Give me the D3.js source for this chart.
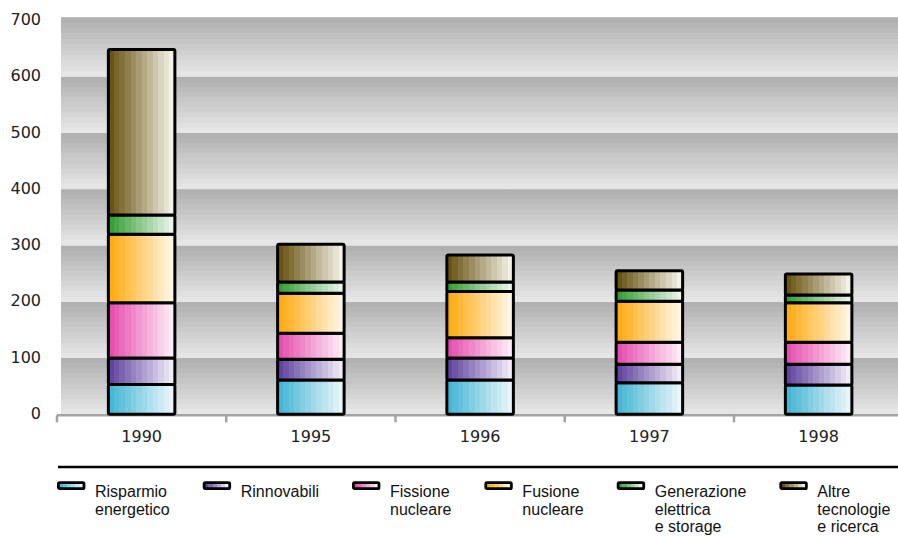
<!DOCTYPE html>
<html>
<head>
<meta charset="utf-8">
<script src="https://cdn.jsdelivr.net/npm/d3@7/dist/d3.min.js"></script>
<style>
  html, body { margin: 0; padding: 0; background: #ffffff; }
  svg { display: block; }
</style>
</head>
<body>
<svg id="chart" width="898" height="536"></svg>
<script>
// Spesa per ricerca energetica, per settore (valori impilati)
const years = ["1990", "1995", "1996", "1997", "1998"];
const seriesNames = [
  "Risparmio energetico",
  "Rinnovabili",
  "Fissione nucleare",
  "Fusione nucleare",
  "Generazione elettrica e storage",
  "Altre tecnologie e ricerca"
];
const legendLines = [
  ["Risparmio", "energetico"],
  ["Rinnovabili"],
  ["Fissione", "nucleare"],
  ["Fusione", "nucleare"],
  ["Generazione", "elettrica", "e storage"],
  ["Altre", "tecnologie", "e ricerca"]
];
const risparmio   = [53, 61, 61, 56, 52];
const rinnovabili = [47, 37, 39, 33, 37];
const fissione    = [98, 46, 36, 39, 39];
const fusione     = [122, 71, 82, 73, 70];
const generazione = [34, 20, 17, 20, 14];
const altre       = [294, 67, 48, 34, 37];
const yTicks = [0, 100, 200, 300, 400, 500, 600, 700];

// colour ramps: saturated on the left of each bar, fading to near white on the right
const colorStart = ["#45b7d4", "#6245a0", "#e64fb0", "#ffab12", "#36a036", "#6a5414"];
const colorEnd   = ["#e8f6fa", "#f0ecf6", "#feecf6", "#fff7e6", "#e8f5ea", "#f4f1e6"];

const seriesValues = [risparmio, rinnovabili, fissione, fusione, generazione, altre];
const rows = years.map((y, i) => {
  const r = { year: y };
  seriesNames.forEach((s, k) => { r[s] = seriesValues[k][i]; });
  return r;
});

const svg = d3.select("#chart");
const W = 898;
const plotLeft = 57, plotRight = 903.25;
const y0px = 414.3, yTopPx = 20.2;

const x = d3.scaleBand()
  .domain(years)
  .range([plotLeft, plotRight])
  .paddingInner(0.607)
  .paddingOuter(0.607 / 2);

const y = d3.scaleLinear().domain([0, 700]).range([y0px, yTopPx]);

const defs = svg.append("defs");

// stepped horizontal-stripe gradient for the background bands
const bandSteps = 11;
const bandGrad = defs.append("linearGradient")
  .attr("id", "bandGrad").attr("x1", 0).attr("y1", 0).attr("x2", 0).attr("y2", 1);
const bandInterp = d3.interpolateRgb("#b1b1b1", "#e5e5e5");
for (let i = 0; i < bandSteps; i++) {
  const c = bandInterp(i / (bandSteps - 1));
  bandGrad.append("stop").attr("offset", i / bandSteps).attr("stop-color", c);
  bandGrad.append("stop").attr("offset", (i + 1) / bandSteps).attr("stop-color", c);
}

// stepped vertical-stripe gradients for each series
function stripeGradient(id, c0, c1, steps) {
  const g = defs.append("linearGradient")
    .attr("id", id).attr("x1", 0).attr("y1", 0).attr("x2", 1).attr("y2", 0);
  const interp = d3.interpolateRgb(c0, c1);
  for (let i = 0; i < steps; i++) {
    const c = interp(i / (steps - 1));
    g.append("stop").attr("offset", i / steps).attr("stop-color", c);
    g.append("stop").attr("offset", (i + 1) / steps).attr("stop-color", c);
  }
}
seriesNames.forEach((s, k) => {
  stripeGradient("bar" + k, colorStart[k], colorEnd[k], 12);
  stripeGradient("leg" + k, colorStart[k], colorEnd[k], 6);
});

// background bands, one per 100 units
const bg = svg.append("g");
bg.selectAll("rect")
  .data(yTicks.slice(0, -1))
  .join("rect")
  .attr("x", plotLeft + 4)
  .attr("width", W - plotLeft - 4)
  .attr("y", d => y(d + 100) - (d === 600 ? 3 : 0))
  .attr("height", d => y(d) - y(d + 100) + (d === 600 ? 3 : 0))
  .attr("fill", "url(#bandGrad)");

// y tick labels
svg.append("g")
  .selectAll("text")
  .data(yTicks)
  .join("text")
  .attr("x", 41)
  .attr("y", d => y(d) - 1)
  .attr("dy", "0.36em")
  .attr("text-anchor", "end")
  .attr("font-family", "DejaVu Sans, sans-serif")
  .attr("font-size", 16)
  .attr("fill", "#222")
  .text(d => d);

// x axis line and boundary ticks
const axisG = svg.append("g");
axisG.append("line")
  .attr("x1", plotLeft).attr("x2", W)
  .attr("y1", y0px + 1).attr("y2", y0px + 1)
  .attr("stroke", "#a3a3a3").attr("stroke-width", 2.5);
axisG.selectAll("line.tick")
  .data(years.map((d, i) => i))
  .join("line")
  .attr("class", "tick")
  .attr("x1", i => plotLeft + i * x.step())
  .attr("x2", i => plotLeft + i * x.step())
  .attr("y1", y0px + 1).attr("y2", y0px + 8)
  .attr("stroke", "#a3a3a3").attr("stroke-width", 2.5);

// stacked bars
const stacked = d3.stack().keys(seriesNames)(rows);
const barsG = svg.append("g");
stacked.forEach((layer, k) => {
  barsG.append("g")
    .selectAll("rect")
    .data(layer)
    .join("rect")
    .attr("x", d => x(d.data.year))
    .attr("width", x.bandwidth())
    .attr("y", d => y(d[1]))
    .attr("height", d => y(d[0]) - y(d[1]))
    .attr("rx", 1.5)
    .attr("fill", "url(#bar" + k + ")")
    .attr("stroke", "#000")
    .attr("stroke-width", 3)
    .attr("stroke-linejoin", "round");
});

// x category labels
const xAxis = d3.axisBottom(x).tickSize(0).tickPadding(0);
const xg = svg.append("g").attr("transform", `translate(0,${y0px})`).call(xAxis);
xg.select(".domain").remove();
xg.selectAll("text")
  .attr("y", 28)
  .attr("dy", 0)
  .attr("font-family", "DejaVu Sans, sans-serif")
  .attr("font-size", 16)
  .attr("fill", "#222");

// legend
svg.append("line")
  .attr("x1", 58).attr("x2", W)
  .attr("y1", 467).attr("y2", 467)
  .attr("stroke", "#000").attr("stroke-width", 2.5);

const legend = svg.append("g");
let lx = 57;
seriesNames.forEach((s, k) => {
  const item = legend.append("g").attr("transform", `translate(${lx},0)`);
  item.append("rect")
    .attr("x", 1.4).attr("y", 482.6)
    .attr("width", 25.6).attr("height", 6)
    .attr("rx", 1.2)
    .attr("fill", "url(#leg" + k + ")")
    .attr("stroke", "#000").attr("stroke-width", 2.8);
  const t = item.append("text")
    .attr("x", 38).attr("y", 497)
    .attr("font-family", "Liberation Sans, Arial, sans-serif")
    .attr("font-size", 16)
    .attr("fill", "#111");
  legendLines[k].forEach((line, j) => {
    t.append("tspan").attr("x", 38).attr("y", 497 + j * 17.5).text(line);
  });
  let maxW = 0;
  t.selectAll("tspan").each(function () {
    maxW = Math.max(maxW, this.getComputedTextLength());
  });
  lx += 38 + maxW + 33;
});
</script>
</body>
</html>
